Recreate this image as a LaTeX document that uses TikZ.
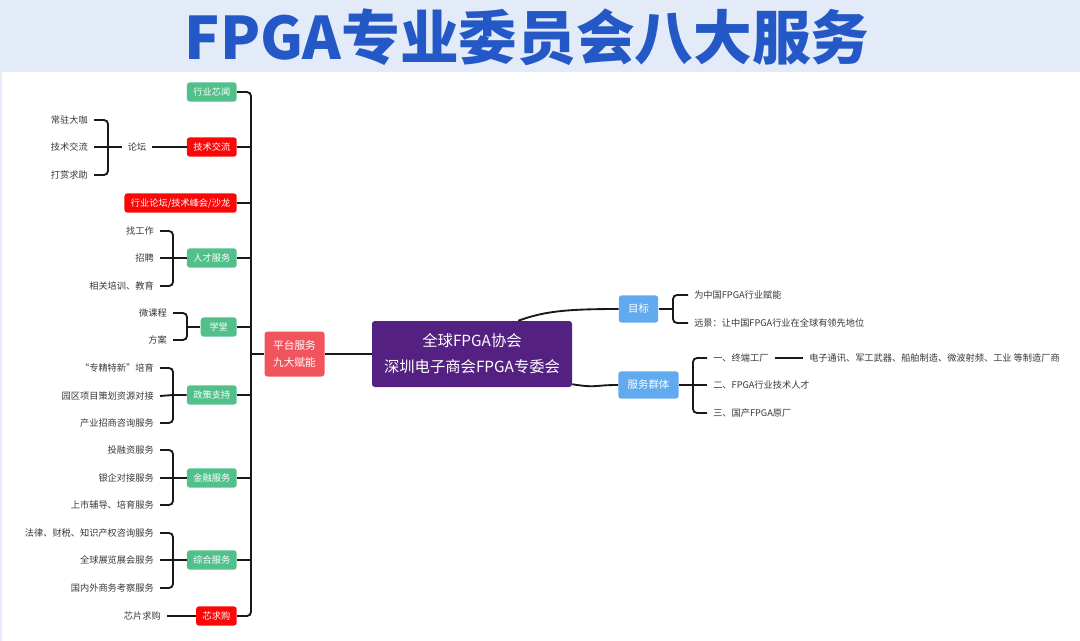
\documentclass[tikz,border=0pt]{standalone}
\usepackage{fontspec}
\setmainfont{Noto Sans CJK SC}
\definecolor{barbg}{RGB}{227,234,248}
\definecolor{titleblue}{RGB}{35,88,198}
\definecolor{nodegreen}{RGB}{82,192,138}
\definecolor{nodered}{RGB}{250,8,8}
\definecolor{nodepink}{RGB}{242,84,94}
\definecolor{nodepurple}{RGB}{84,32,130}
\definecolor{nodeblue}{RGB}{98,170,240}
\definecolor{itemgray}{RGB}{55,55,55}
\definecolor{linegray}{RGB}{25,25,25}
\begin{document}
\begin{tikzpicture}[x=0.75pt, y=-0.75pt,
  every node/.style={font=\fontsize{6.9}{8}\selectfont, text=itemgray},
  box/.style={rounded corners=2.2pt, text=white, minimum height=14.5pt, inner xsep=4.9pt, inner ysep=0pt},
  greenbox/.style={box, fill=nodegreen},
  redbox/.style={box, fill=nodered},
  bluebox/.style={box, fill=nodeblue, font=\fontsize{7.8}{9}\selectfont, minimum height=20.5pt, inner xsep=7pt},
  item/.style={inner xsep=4.5pt, inner ysep=1pt},
  link/.style={draw=linegray, line width=1.4pt},
  bracket/.style={link, rounded corners=3pt}]
  \useasboundingbox (0,0) rectangle (1080,641);
  \fill[barbg] (0,0) rectangle (1080,72);
  \fill[barbg] (0,72) rectangle (2,641);
  \node[font=\fontsize{44}{44}\selectfont\bfseries, text=titleblue] (title) at (527,37) {FPGA专业委员会八大服务};

  \node[fill=nodepurple, rounded corners=2.2pt, text=white, minimum width=150pt, minimum height=49.5pt,
    align=center, font=\fontsize{11.5}{19.5}\selectfont] (hub) at (472,354) {全球FPGA协会\\深圳电子商会FPGA专委会};
  \node[box, fill=nodepink, align=center, inner xsep=6.5pt, minimum height=33.75pt,
    font=\fontsize{8}{12.5}\selectfont] (ptfw) at (294.5,354) {平台服务\\九大赋能};

  \node[greenbox, anchor=east] (hyxw) at (237,92) {行业芯闻};
  \node[redbox, anchor=east] (jsjl) at (237,147) {技术交流};
  \node[redbox, anchor=east] (ltfh) at (237,203) {行业论坛/技术峰会/沙龙};
  \node[greenbox, anchor=east] (rcfw) at (237,258) {人才服务};
  \node[greenbox, anchor=east, minimum width=27pt] (xt) at (237,327) {学堂};
  \node[greenbox, anchor=east] (zczc) at (237,395) {政策支持};
  \node[greenbox, anchor=east] (jrfw) at (237,478) {金融服务};
  \node[greenbox, anchor=east] (zhfw) at (237,560) {综合服务};
  \node[redbox, anchor=east] (xqg) at (237,616) {芯求购};

  \coordinate (bus) at (251,354);
  \draw[bracket] (hyxw.east) -| (bus) |- (xqg.east);
  \foreach \n in {jsjl,ltfh,rcfw,xt,zczc,jrfw,zhfw}
    \draw[link] (\n.east) -- (\n.east -| bus);
  \draw[link] (ptfw.west) -- (ptfw.west -| bus);
  \draw[link] (hub.west) -- (ptfw.east);

  \node[item] (lt) at (137,147) {论坛};
  \draw[link] (lt.east) -- (jsjl.west);
  \coordinate (ltb) at (108,147);
  \foreach \t/\y [count=\i] in {常驻大咖/120,技术交流/147,打赏求助/175}
    \node[item, anchor=east] (lt-\i) at (94,\y) {\t};
  \draw[bracket] (lt-1.east) -| (ltb) |- (lt-3.east);
  \draw[link] (lt-2.east) -- (ltb) -- (lt.west);

  \coordinate (rcb) at (173,258);
  \foreach \t/\y [count=\i] in {找工作/231,招聘/258,相关培训、教育/286}
    \node[item, anchor=east] (rc-\i) at (160,\y) {\t};
  \draw[bracket] (rc-1.east) -| (rcb) |- (rc-3.east);
  \draw[link] (rc-2.east) -- (rcb) -- (rcfw.west);

  \coordinate (xtb) at (187,327);
  \foreach \t/\y [count=\i] in {微课程/313,方案/340}
    \node[item, anchor=east] (xt-\i) at (173,\y) {\t};
  \draw[bracket] (xt-1.east) -| (xtb) |- (xt-2.east);
  \draw[link] (xtb) -- (xt.west);

  \coordinate (zcb) at (173,395);
  \foreach \t/\y [count=\i] in {“专精特新”培育/368,园区项目策划资源对接/396,产业招商咨询服务/423}
    \node[item, anchor=east] (zc-\i) at (160,\y) {\t};
  \draw[bracket] (zc-1.east) -| (zcb) |- (zc-3.east);
  \draw[link] (zc-2.east) -- (zcb) -- (zczc.west);

  \coordinate (jrb) at (173,478);
  \foreach \t/\y [count=\i] in {投融资服务/450,银企对接服务/478,上市辅导、培育服务/505}
    \node[item, anchor=east] (jr-\i) at (160,\y) {\t};
  \draw[bracket] (jr-1.east) -| (jrb) |- (jr-3.east);
  \draw[link] (jr-2.east) -- (jrb) -- (jrfw.west);

  \coordinate (zhb) at (173,560);
  \foreach \t/\y [count=\i] in {法律、财税、知识产权咨询服务/533,全球展览展会服务/560,国内外商务考察服务/588}
    \node[item, anchor=east] (zh-\i) at (160,\y) {\t};
  \draw[bracket] (zh-1.east) -| (zhb) |- (zh-3.east);
  \draw[link] (zh-2.east) -- (zhb) -- (zhfw.west);

  \node[item, anchor=east] (xp) at (167,616) {芯片求购};
  \draw[link] (xp.east) -- (xqg.west);

  \node[bluebox] (mb) at (638.5,309) {目标};
  \node[bluebox] (fwqt) at (648.5,385) {服务群体};
  \draw[link] ([xshift=-40.5pt]hub.north east) .. controls +(25,-9) and +(-55,0) .. (mb.west);
  \draw[link] ([yshift=2.25pt]hub.south east) .. controls +(25,4) and +(-25,0) .. (fwqt.west);

  \coordinate (mbb) at (673,309);
  \foreach \t/\y [count=\i] in {为中国FPGA行业赋能/295,远景：让中国FPGA行业在全球有领先地位/323}
    \node[item, anchor=west] (mb-\i) at (688,\y) {\t};
  \draw[bracket] (mb-1.west) -| (mbb) |- (mb-2.west);
  \draw[link] (mb.east) -- (mbb);

  \coordinate (fwb) at (693,385);
  \foreach \t/\y [count=\i] in {一、终端工厂/358,二、FPGA行业技术人才/385,三、国产FPGA原厂/413}
    \node[item, anchor=west] (fw-\i) at (707,\y) {\t};
  \draw[bracket] (fw-1.west) -| (fwb) |- (fw-3.west);
  \draw[link] (fwqt.east) -- (fwb) -- (fw-2.west);
  \node[item, anchor=west] (zd) at (803,358) {电子通讯、军工武器、船舶制造、微波射频、工业 等制造厂商};
  \draw[link] (fw-1.east) -- (zd.west);
\end{tikzpicture}
\end{document}
